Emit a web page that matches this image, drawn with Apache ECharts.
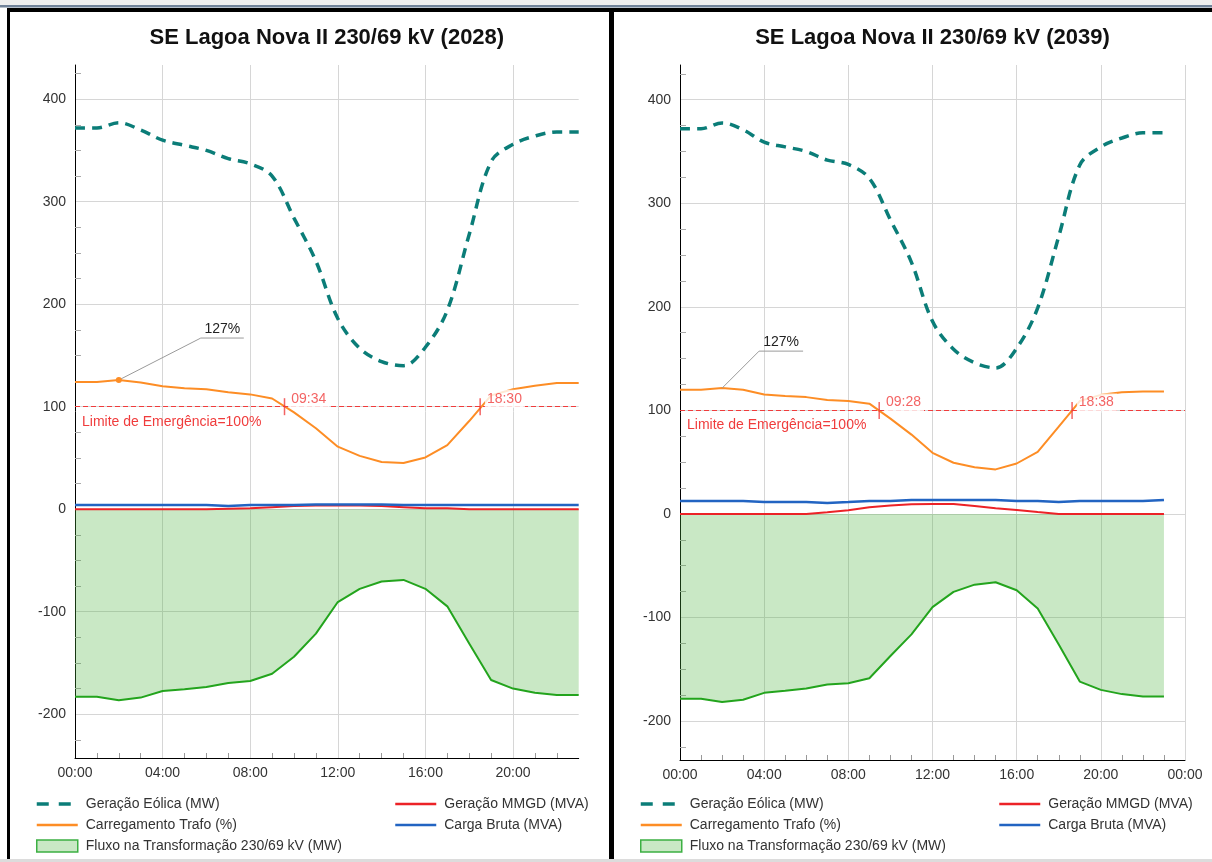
<!DOCTYPE html>
<html>
<head>
<meta charset="utf-8">
<script src="https://cdn.jsdelivr.net/npm/echarts@6/dist/echarts.min.js"></script>
<style>
html,body{margin:0;padding:0;background:#fff;}
#c{width:1212px;height:862px;}
</style>
</head>
<body>
<div id="c"></div>
<script>
// ---------------- DATA ----------------
const hours = [0,1,2,3,4,5,6,7,8,9,10,11,12,13,14,15,16,17,18,19,20,21,22,23];
const panelTitles = ['SE Lagoa Nova II 230/69 kV (2028)', 'SE Lagoa Nova II 230/69 kV (2039)'];
const seriesNames = ['Geração Eólica (MW)', 'Geração MMGD (MVA)', 'Carregamento Trafo (%)', 'Carga Bruta (MVA)', 'Fluxo na Transformação 230/69 kV (MW)'];

// 2028
const eolica2028 = [372,372,377,370,360,355,350,342,337,325,284,242,186,157,144,140,158,194,268,339,356,364,368,368];
const mmgd2028 = [0,0,0,0,0,0,0,0.5,1,2,3,3.5,3.5,3.5,3,2,1,1,0,0,0,0,0,0];
const carregamento2028 = [124,124,126,123.5,120,118,117,114,112,108,94.5,79,61,52,46,45,50.5,62.5,86,111,117,120.5,123,123];
const carga2028 = [4,4,4,4,4,4,4,3,4,4,4,4.5,4.5,4.5,4.5,4,4,4,4,4,4,4,4,4];
const fluxo2028 = [-183,-183,-186.4,-183.8,-177.3,-175.7,-173.5,-169.6,-167.6,-160.5,-144,-121.4,-90.6,-77.7,-70.6,-69,-77.7,-94.8,-131,-166.7,-175,-179,-181.2,-181.2];
const cruzamentos2028 = ['09:34', '18:30'];
const pico2028 = { hora: 2, texto: '127%' };

// 2039
const eolica2039 = [372,372,377.6,371,359,354.5,350,341.7,337.5,324,284,243,186,159,146,141,160,199,268,337,354.5,363,368,368];
const mmgd2039 = [0,0,0,0,0,0,0,1.6,3.5,6.5,8.2,9.3,9.6,9.6,7.6,5.6,3.7,1.8,0,0,0,0,0,0];
const carregamento2039 = [120,120,121.5,120,115.4,114,112.8,110,109,106.5,92,76.6,59,49.4,45,43,48.7,60,84.3,109,115,117.6,118.3,118.3];
const carga2039 = [12.5,12.5,12.5,12.5,11.5,11.5,11.5,10.6,11.5,12.5,12.5,13.5,13.5,13.5,13.5,13.5,12.5,12.5,11.5,12.5,12.5,12.5,12.5,13.5];
const fluxo2039 = [-178.5,-178.5,-181.7,-179.5,-172.8,-170.8,-168.6,-164.7,-163.5,-158.7,-137.2,-116.3,-90,-75.3,-68.3,-66,-73.7,-91.3,-126,-161.9,-169.9,-174,-176.3,-176.3];
const cruzamentos2039 = ['09:28', '18:38'];
const pico2039 = { hora: 2, texto: '127%' };

const limiteEmergencia = 100;
const xMaxPorPainel = [23, 24];

// ---------------- STYLE ----------------
const FONT = 'Liberation Sans, Arial, sans-serif';
const C = {
  teal: '#0b7d78', orange: '#fd8d25', red: '#ec2227', blue: '#2264c2',
  green: '#23a41d', greenFill: 'rgba(75,178,62,0.30)', limit: '#f03c3c',
  grid: '#d6d6d6', text: '#333'
};
const gridBoxes = [
  { left: 75, top: 65, width: 503.7, height: 693 },
  { left: 680, top: 65, width: 505, height: 695 }
];
const legendPos = [
  { col1: 35, col2: 394 },
  { col1: 639, col2: 998 }
];
const peakOffsets = [
  { dx: 82, dy: -42, len: 43 },
  { dx: 37, dy: -37, len: 44 }
];

const panels = [
  { eolica: eolica2028, mmgd: mmgd2028, carreg: carregamento2028, carga: carga2028, fluxo: fluxo2028, cross: cruzamentos2028, pico: pico2028 },
  { eolica: eolica2039, mmgd: mmgd2039, carreg: carregamento2039, carga: carga2039, fluxo: fluxo2039, cross: cruzamentos2039, pico: pico2039 }
];

const hh = v => { const h = Math.round(v) % 24; return (h < 10 ? '0' : '') + h + ':00'; };
const toHour = t => { const p = t.split(':'); return +p[0] + (+p[1]) / 60; };
const pairs = arr => hours.map((h, k) => [h, arr[k]]);
function yExtent(arrs) {
  let lo = Infinity, hi = -Infinity;
  arrs.forEach(a => a.forEach(v => { if (v == null) return; lo = Math.min(lo, v); hi = Math.max(hi, v); }));
  const pad = (hi - lo) * 0.1;
  return [lo - pad, hi + pad];
}

const option = {
  animation: false,
  textStyle: { fontFamily: FONT },
  title: [], grid: [], xAxis: [], yAxis: [], series: [], legend: []
};

panels.forEach((p, i) => {
  const g = gridBoxes[i];
  const ext = yExtent([p.eolica, p.mmgd, p.carreg, p.carga, p.fluxo]);
  option.title.push({
    text: panelTitles[i], left: g.left + g.width / 2, top: 27, textAlign: 'center', padding: 0,
    textStyle: { fontSize: 22, fontWeight: 'bold', color: '#111', fontFamily: FONT }
  });
  option.grid.push(Object.assign({ containLabel: false }, g));
  option.xAxis.push({
    type: 'value', gridIndex: i, min: 0, max: xMaxPorPainel[i], interval: 4,
    axisLine: { show: true, onZero: false, lineStyle: { color: '#000', width: 1 } },
    axisTick: { show: false, inside: true },
    minorTick: { show: true, splitNumber: 4, length: 5, lineStyle: { color: '#999' } },
    splitLine: { show: true, showMinLine: false, showMaxLine: xMaxPorPainel[i] === 24, lineStyle: { color: C.grid } },
    axisLabel: { formatter: v => (v % 4 === 0 ? hh(v) : ''), color: C.text, fontSize: 14, margin: 8, fontFamily: FONT }
  });
  option.yAxis.push({
    type: 'value', gridIndex: i, min: ext[0], max: ext[1], splitNumber: 6,
    axisLine: { show: true, onZero: false, lineStyle: { color: '#000', width: 1 } },
    axisTick: { show: false, inside: true },
    minorTick: { show: true, splitNumber: 4, length: 6, lineStyle: { color: '#aaa' } },
    splitLine: { show: true, showMinLine: false, showMaxLine: false, lineStyle: { color: C.grid } },
    axisLabel: { showMinLabel: false, showMaxLabel: false, formatter: v => (Math.abs(v % 100) < 1e-6 ? String(Math.round(v)) : ''), color: C.text, fontSize: 14, margin: 9, fontFamily: FONT }
  });
  const base = { xAxisIndex: i, yAxisIndex: i, symbol: 'none', showSymbol: false };
  option.series.push(Object.assign({}, base, {
    type: 'line', name: seriesNames[4], data: pairs(p.fluxo), z: 1,
    lineStyle: { color: C.green, width: 2 }, itemStyle: { color: C.green },
    areaStyle: { color: C.greenFill, opacity: 1, origin: 0 }
  }));
  option.series.push(Object.assign({}, base, {
    type: 'line', name: seriesNames[1], data: pairs(p.mmgd), z: 3,
    lineStyle: { color: C.red, width: 2 }, itemStyle: { color: C.red }
  }));
  option.series.push(Object.assign({}, base, {
    type: 'line', name: seriesNames[3], data: pairs(p.carga), z: 3,
    lineStyle: { color: C.blue, width: 2.5 }, itemStyle: { color: C.blue }
  }));
  option.series.push(Object.assign({}, base, {
    type: 'line', name: seriesNames[2], data: pairs(p.carreg), z: 4,
    lineStyle: { color: C.orange, width: 2 }, itemStyle: { color: C.orange },
    markLine: {
      silent: true, symbol: 'none',
      lineStyle: { color: C.limit, type: [5, 3], width: 1 },
      label: { show: true, position: 'insideStartBottom', distance: [7, 8], color: C.limit, fontSize: 14, fontFamily: FONT,
               formatter: 'Limite de Emergência=' + limiteEmergencia + '%' },
      data: [{ yAxis: limiteEmergencia }]
    }
  }));
  option.series.push(Object.assign({}, base, {
    type: 'line', name: seriesNames[0], data: pairs(p.eolica), z: 5, smooth: 0.35,
    lineStyle: { color: C.teal, width: 3.5, type: [10, 7] }, itemStyle: { color: C.teal }
  }));
  option.series.push({
    type: 'scatter', name: 'cruzamentos', xAxisIndex: i, yAxisIndex: i, z: 8,
    symbol: 'rect', symbolSize: [1.5, 17], itemStyle: { color: C.limit },
    data: p.cross.map(t => [toHour(t), limiteEmergencia]),
    label: { show: true, position: 'right', distance: 4, offset: [0, -8], color: C.limit, fontSize: 14, fontFamily: FONT,
             backgroundColor: '#fff', padding: [4, 3, 0, 2], formatter: q => p.cross[q.dataIndex] },
    silent: true
  });
  const lg = { orient: 'vertical', top: 797, padding: 0, itemWidth: 41, itemHeight: 12, itemGap: 7, selectedMode: false,
               itemStyle: { opacity: 0 },
               textStyle: { fontSize: 14, color: C.text, fontFamily: FONT, padding: [0, 0, 0, 3] } };
  option.legend.push(Object.assign({}, lg, {
    left: legendPos[i].col1,
    data: [
      { name: seriesNames[0], lineStyle: { type: [12, 10], width: 3.5 } },
      { name: seriesNames[2], lineStyle: { width: 2.5 } },
      { name: seriesNames[4], icon: 'rect', itemStyle: { color: C.greenFill, opacity: 1, borderColor: '#3cb043', borderWidth: 1.5 } }
    ]
  }));
  option.legend.push(Object.assign({}, lg, {
    left: legendPos[i].col2,
    data: [{ name: seriesNames[1], lineStyle: { width: 2.5 } }, { name: seriesNames[3], lineStyle: { width: 2.5 } }]
  }));
});

const chart = echarts.init(document.getElementById('c'), null, { renderer: 'canvas' });
chart.setOption(option);

// ---------------- frame + peak annotation ----------------
const graphics = [
  { type: 'rect', shape: { x: 0, y: 0, width: 1212, height: 5 }, style: { fill: '#eeeeee' }, silent: true },
  { type: 'rect', shape: { x: 0, y: 5, width: 1212, height: 2.5 }, style: { fill: '#71839a' }, silent: true },
  { type: 'rect', shape: { x: 7, y: 8, width: 1205, height: 4 }, style: { fill: '#000' }, silent: true },
  { type: 'rect', shape: { x: 7, y: 8, width: 3, height: 851 }, style: { fill: '#000' }, silent: true },
  { type: 'rect', shape: { x: 609, y: 8, width: 5, height: 854 }, style: { fill: '#000' }, silent: true },
  { type: 'rect', shape: { x: 0, y: 859, width: 1212, height: 3 }, style: { fill: '#dcdcdc' }, silent: true }
];
panels.forEach((p, i) => {
  const h = p.pico.hora;
  const pt = chart.convertToPixel({ gridIndex: i }, [h, p.carreg[h]]);
  const o = peakOffsets[i];
  const ex = pt[0] + o.dx, ey = pt[1] + o.dy;
  graphics.push({ type: 'polyline', shape: { points: [pt, [ex, ey], [ex + o.len, ey]] }, style: { stroke: '#9a9a9a', lineWidth: 1, fill: null }, z: 20, silent: true });
  graphics.push({ type: 'text', x: ex + o.len / 2, y: ey - 2, style: { text: p.pico.texto, fill: '#222', font: '14px ' + FONT, textAlign: 'center', textVerticalAlign: 'bottom' }, z: 20, silent: true });
  if (i === 0) graphics.push({ type: 'circle', shape: { cx: pt[0], cy: pt[1], r: 3 }, style: { fill: C.orange }, z: 20, silent: true });
});
chart.setOption({ graphic: graphics });
</script>
</body>
</html>
